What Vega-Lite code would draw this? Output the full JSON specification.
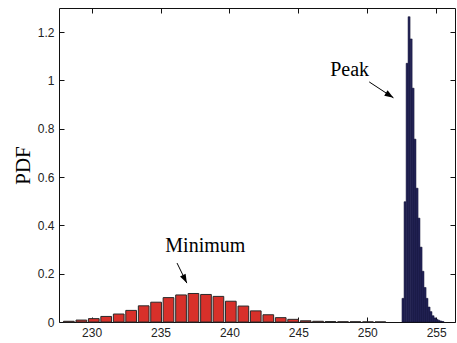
{
  "$schema": "https://vega.github.io/schema/vega-lite/v6.json",
  "width": 396,
  "height": 314,
  "autosize": {"type": "none"},
  "padding": {"left": 59, "top": 8, "right": 2, "bottom": 21},
  "background": "white",
  "config": {
    "view": {"stroke": "#111", "strokeWidth": 1},
    "axis": {
      "grid": false,
      "domain": false,
      "labelFont": "Liberation Sans",
      "labelFontSize": 12,
      "labelColor": "#222",
      "tickColor": "#111"
    }
  },
  "datasets": {
    "minimum": [
      {"x": 228.35, "pdf": 0.003},
      {"x": 229.26, "pdf": 0.008},
      {"x": 230.16, "pdf": 0.014},
      {"x": 231.06, "pdf": 0.023},
      {"x": 231.97, "pdf": 0.033},
      {"x": 232.87, "pdf": 0.048},
      {"x": 233.78, "pdf": 0.067},
      {"x": 234.68, "pdf": 0.082},
      {"x": 235.58, "pdf": 0.101},
      {"x": 236.49, "pdf": 0.112},
      {"x": 237.39, "pdf": 0.118},
      {"x": 238.3, "pdf": 0.114},
      {"x": 239.2, "pdf": 0.106},
      {"x": 240.1, "pdf": 0.086},
      {"x": 241.01, "pdf": 0.066},
      {"x": 241.91, "pdf": 0.046},
      {"x": 242.82, "pdf": 0.03},
      {"x": 243.72, "pdf": 0.018},
      {"x": 244.62, "pdf": 0.011},
      {"x": 245.53, "pdf": 0.005},
      {"x": 246.43, "pdf": 0.003},
      {"x": 247.33, "pdf": 0.002},
      {"x": 248.24, "pdf": 0.001},
      {"x": 249.14, "pdf": 0.001},
      {"x": 250.05, "pdf": 0.0005},
      {"x": 250.95, "pdf": 0.0003}
    ],
    "peak": [
      {"x": 252.59, "pdf": 0.098},
      {"x": 252.74, "pdf": 0.498},
      {"x": 252.89, "pdf": 1.071},
      {"x": 253.03, "pdf": 1.264},
      {"x": 253.18, "pdf": 1.172},
      {"x": 253.32, "pdf": 0.968},
      {"x": 253.46, "pdf": 0.757},
      {"x": 253.61, "pdf": 0.554},
      {"x": 253.75, "pdf": 0.43},
      {"x": 253.9, "pdf": 0.31},
      {"x": 254.04, "pdf": 0.21},
      {"x": 254.19, "pdf": 0.143},
      {"x": 254.33, "pdf": 0.098},
      {"x": 254.48, "pdf": 0.062},
      {"x": 254.62, "pdf": 0.043},
      {"x": 254.77, "pdf": 0.026},
      {"x": 254.91, "pdf": 0.017},
      {"x": 255.06, "pdf": 0.011},
      {"x": 255.2, "pdf": 0.007},
      {"x": 255.35, "pdf": 0.004},
      {"x": 255.49, "pdf": 0.002}
    ],
    "notes": [
      {"label": "Minimum", "x": 238.25, "pdf": 0.315},
      {"label": "Peak", "x": 248.72, "pdf": 1.043}
    ],
    "arrows": [
      {"name": "Minimum", "x": 236.2, "pdf": 0.244, "x2": 236.91, "pdf2": 0.161},
      {"name": "Peak", "x": 250.14, "pdf": 0.994, "x2": 251.9, "pdf2": 0.928}
    ]
  },
  "layer": [
    {
      "data": {"name": "minimum"},
      "mark": {"type": "bar", "size": 10.7, "fill": "#d8302a", "stroke": "#2a2a2a", "strokeWidth": 1},
      "encoding": {
        "x": {"field": "x", "type": "quantitative", "scale": {"domain": [228, 256], "nice": false, "zero": false},
              "axis": {"orient": "bottom", "values": [230, 235, 240, 245, 250, 255], "title": null, "ticks": false, "labelPadding": 5}},
        "y": {"field": "pdf", "type": "quantitative", "scale": {"domain": [0, 1.3], "nice": false},
              "axis": {"orient": "left", "values": [0, 0.2, 0.4, 0.6, 0.8, 1, 1.2], "format": "~g", "ticks": false, "labelPadding": 5,
                       "title": "PDF", "titleFont": "Liberation Serif", "titleFontSize": 21,
                       "titleFontWeight": "normal", "titleColor": "#000", "titlePadding": 4}}
      }
    },
    {
      "data": {"name": "peak"},
      "mark": {"type": "bar", "size": 2.05, "fill": "#26265c", "stroke": "#111130", "strokeWidth": 0.5},
      "encoding": {
        "x": {"field": "x", "type": "quantitative", "scale": {"domain": [228, 256], "nice": false, "zero": false},
              "axis": {"orient": "top", "values": [230, 235, 240, 245, 250, 255], "labels": false, "title": null, "tickSize": -5}},
        "y": {"field": "pdf", "type": "quantitative", "scale": {"domain": [0, 1.3], "nice": false},
              "axis": {"orient": "right", "values": [0, 0.2, 0.4, 0.6, 0.8, 1, 1.2], "labels": false, "title": null, "tickSize": -5}}
      }
    },
    {
      "data": {"name": "arrows"},
      "mark": {"type": "rule", "color": "#000", "strokeWidth": 1},
      "encoding": {
        "x": {"field": "x", "type": "quantitative", "axis": null},
        "y": {"field": "pdf", "type": "quantitative", "axis": null},
        "x2": {"field": "x2"},
        "y2": {"field": "pdf2"}
      }
    },
    {
      "data": {"name": "arrows"},
      "transform": [{"filter": "datum.name == 'Minimum'"}],
      "mark": {"type": "point", "shape": "M0,0L-0.35,1L0.35,1Z", "filled": true, "color": "#000", "opacity": 1, "size": 324, "angle": 153.4},
      "encoding": {
        "x": {"field": "x2", "type": "quantitative", "axis": null},
        "y": {"field": "pdf2", "type": "quantitative", "axis": null}
      }
    },
    {
      "data": {"name": "arrows"},
      "transform": [{"filter": "datum.name == 'Peak'"}],
      "mark": {"type": "point", "shape": "M0,0L-0.35,1L0.35,1Z", "filled": true, "color": "#000", "opacity": 1, "size": 324, "angle": 122.6},
      "encoding": {
        "x": {"field": "x2", "type": "quantitative", "axis": null},
        "y": {"field": "pdf2", "type": "quantitative", "axis": null}
      }
    },
    {
      "data": {"name": "notes"},
      "mark": {"type": "text", "font": "Liberation Serif", "fontSize": 20, "color": "#000", "align": "center", "baseline": "middle"},
      "encoding": {
        "x": {"field": "x", "type": "quantitative", "scale": {"domain": [228, 256], "nice": false, "zero": false},
              "axis": {"orient": "bottom", "values": [230, 235, 240, 245, 250, 255], "labels": false, "title": null, "tickSize": -5}},
        "y": {"field": "pdf", "type": "quantitative", "scale": {"domain": [0, 1.3], "nice": false},
              "axis": {"orient": "left", "values": [0, 0.2, 0.4, 0.6, 0.8, 1, 1.2], "labels": false, "title": null, "tickSize": -5}},
        "text": {"field": "label"}
      }
    }
  ],
  "resolve": {"axis": {"x": "independent", "y": "independent"}}
}
